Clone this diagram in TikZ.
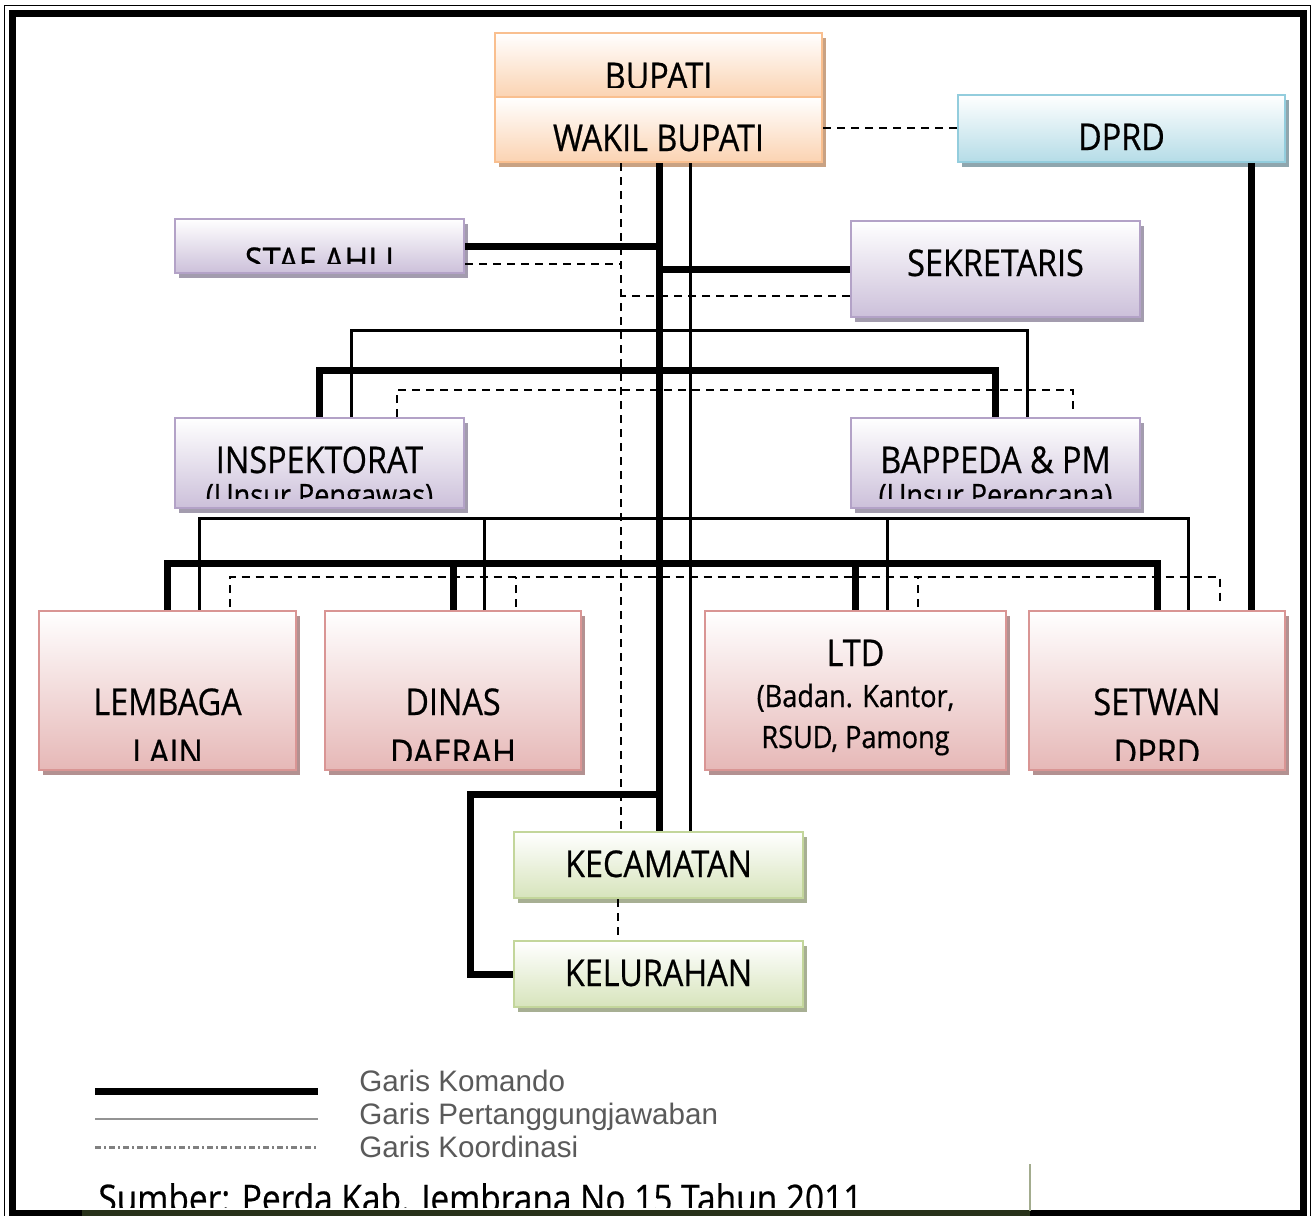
\documentclass[tikz,border=0pt]{standalone}
\usepackage{fontspec}
\setmainfont{Open Sans}[FakeStretch=0.88,BoldFont={Open Sans},BoldFeatures={FakeBold=0.6}]
\newfontfamily\legendfont{Liberation Sans}
\usetikzlibrary{shadows}

\definecolor{oranyeGaris}{HTML}{F9BF8F}
\definecolor{oranyeIsi}{HTML}{FBD3B2}
\definecolor{oranyeBayang}{HTML}{C9A283}
\definecolor{biruGaris}{HTML}{93CDDD}
\definecolor{biruIsi}{HTML}{B5DCE7}
\definecolor{biruBayang}{HTML}{8FA6AE}
\definecolor{unguGaris}{HTML}{B3A2C7}
\definecolor{unguIsi}{HTML}{CCC0DA}
\definecolor{unguBayang}{HTML}{A39CAE}
\definecolor{merahGaris}{HTML}{D99594}
\definecolor{merahIsi}{HTML}{E6B8B7}
\definecolor{merahBayang}{HTML}{B39191}
\definecolor{hijauGaris}{HTML}{C3D69B}
\definecolor{hijauIsi}{HTML}{D7E4BC}
\definecolor{hijauBayang}{HTML}{A7AF93}
\definecolor{hijauTua}{HTML}{28321A}
\definecolor{hijauAbu}{HTML}{A3AC8E}
\definecolor{abuTeks}{HTML}{5A5A5A}

\begin{document}
\begin{tikzpicture}[x=0.5pt,y=-0.5pt,
	kotak/.style n args={3}{rectangle,inner sep=0pt,line width=1pt,draw=#1,
		top color=white,bottom color=#2,
		drop shadow={shadow xshift=2pt,shadow yshift=-2.5pt,fill=#3,opacity=1}},
	ukuran/.style 2 args={minimum width=#1*0.5pt,minimum height=#2*0.5pt},
	oranye/.style={kotak={oranyeGaris}{oranyeIsi}{oranyeBayang}},
	biru/.style={kotak={biruGaris}{biruIsi}{biruBayang}},
	ungu/.style={kotak={unguGaris}{unguIsi}{unguBayang}},
	merah/.style={kotak={merahGaris}{merahIsi}{merahBayang}},
	hijau/.style={kotak={hijauGaris}{hijauIsi}{hijauBayang}},
	tulisan/.style={font=\bfseries\fontsize{18.4}{21}\selectfont,anchor=base,inner sep=0pt},
	kecil/.style={font=\bfseries\fontsize{15.4}{18}\selectfont,anchor=base,inner sep=0pt},
	legenda/.style={font=\legendfont\fontsize{14.8}{17}\selectfont,text=abuTeks,anchor=base west,inner sep=0pt},
	komando/.style={line width=3.5pt},
	tanggung/.style={line width=1.5pt},
	koordinasi/.style={line width=1pt,dash pattern=on 4pt off 3pt}]
	\useasboundingbox (0,0) rectangle (1313,1216);
	
	% Frame
	\draw[line width=0.75pt] (4.5,1230) -- (4.5,5.5) -- (1310.5,5.5) -- (1310.5,1230);
	\draw[line width=3.5pt] (12.5,1230) -- (12.5,13.5) -- (1303.5,13.5) -- (1303.5,1230);
	\draw[line width=3.5pt] (9,1213.5) -- (1307,1213.5);
	\draw[line width=3.5pt,hijauTua] (82,1213.5) -- (1030,1213.5);
	\draw[line width=1pt,hijauAbu] (1030,1164) -- (1030,1211);
	
	% Boxes
	\node[oranye,ukuran={327}{64}] (bupati) at (658.5,65) {};
	\node[oranye,ukuran={327}{65}] (wakil) at (658.5,129.5) {};
	\node[biru,ukuran={327}{67}] (dprd) at (1121.5,128.5) {};
	\node[ungu,ukuran={289}{54}] (stafahli) at (319.5,246) {};
	\node[ungu,ukuran={289}{96}] (sekretaris) at (995.5,269) {};
	\node[ungu,ukuran={289}{90}] (inspektorat) at (319.5,463) {};
	\node[ungu,ukuran={289}{90}] (bappeda) at (995.5,463) {};
	\node[merah,ukuran={257}{159}] (lembaga) at (167.5,690.5) {};
	\node[merah,ukuran={256}{159}] (dinas) at (453,690.5) {};
	\node[merah,ukuran={301}{159}] (ltd) at (855.5,690.5) {};
	\node[merah,ukuran={256}{159}] (setwan) at (1157,690.5) {};
	\node[hijau,ukuran={289}{66}] (kecamatan) at (658.5,865) {};
	\node[hijau,ukuran={289}{66}] (kelurahan) at (658.5,974) {};
	
	% Texts (clipped by the box)
	\foreach \n/\y/\t/\s in {bupati/89/BUPATI/tulisan, wakil/151/WAKIL BUPATI/tulisan,
		dprd/150/DPRD/tulisan, stafahli/274/STAF AHLI/tulisan,
		sekretaris/276/SEKRETARIS/tulisan, inspektorat/473/INSPEKTORAT/tulisan,
		inspektorat/506/(Unsur Pengawas)/kecil, bappeda/473/BAPPEDA \& PM/tulisan,
		bappeda/506/(Unsur Perencana)/kecil, lembaga/715/LEMBAGA/tulisan,
		lembaga/766/LAIN/tulisan, dinas/715/DINAS/tulisan, dinas/766/DAERAH/tulisan,
		ltd/666/LTD/tulisan, ltd/707/{(Badan. Kantor,}/kecil, ltd/748/{RSUD, Pamong}/kecil,
		setwan/715/SETWAN/tulisan, setwan/766/DPRD/tulisan,
		kecamatan/877/KECAMATAN/tulisan, kelurahan/986/KELURAHAN/tulisan}
	{
		\begin{scope}
			\clip ([yshift=5.5pt]\n.south west) rectangle (\n.north east);
			\node[\s] at (\n.center |- 0,\y) {\t};
		\end{scope}
	}
	
	% Trunk lines
	\coordinate (xK) at (659,0);
	\coordinate (xT) at (690,0);
	\coordinate (xD) at (621,0);
	\draw[komando] (xK |- wakil.south) -- (xK |- kecamatan.north);
	\draw[tanggung] (xT |- wakil.south) -- (xT |- kecamatan.north);
	\draw[koordinasi] (xD |- wakil.south) -- (xD |- kecamatan.north);
	\draw[koordinasi] ([yshift=1pt]wakil.east) -- ([yshift=1pt]wakil.east -| dprd.west);
	
	% Staf ahli and sekretaris
	\draw[komando] (stafahli.east) -- (stafahli.east -| xK);
	\draw[koordinasi] ([yshift=-9pt]stafahli.east) -- ([yshift=-9pt]stafahli.east -| xD);
	\draw[komando] (sekretaris.west) -- (sekretaris.west -| xK);
	\draw[koordinasi] ([yshift=-13.5pt]sekretaris.west) -- ([yshift=-13.5pt]sekretaris.west -| xD);
	
	% Inspektorat and bappeda
	\draw[tanggung] ([xshift=15.75pt]inspektorat.north) -- ++(0,-87) -| ([xshift=15.75pt]bappeda.north);
	\draw[komando] (inspektorat.north) -- ++(0,-47) -| (bappeda.north);
	\draw[koordinasi] ([xshift=38.75pt]inspektorat.north) -- ++(0,-27) -| ([xshift=38.75pt,yshift=3.5pt]bappeda.north);
	
	% Lower row
	\draw[tanggung] ([xshift=15.75pt]lembaga.north) -- ++(0,-92) -| ([xshift=15.75pt]setwan.north);
	\draw[komando] (lembaga.north) -- ++(0,-47) -| (setwan.north);
	\draw[koordinasi] ([xshift=31.25pt,yshift=1.5pt]lembaga.north) -- ++(0,-30.5) -| ([xshift=31.25pt,yshift=4.5pt]setwan.north);
	\foreach \b in {dinas,ltd}
	{
		\draw[tanggung] ([xshift=15.75pt]\b.north) -- ++(0,-92);
		\draw[komando] (\b.north) -- ++(0,-47);
		\draw[koordinasi] ([xshift=31.25pt,yshift=1.5pt]\b.north) -- ++(0,-30.5);
	}
	\draw[komando] ([xshift=64.75pt]dprd.south) -- ([xshift=64.75pt]dprd.south |- setwan.north);
	
	% Kecamatan and kelurahan
	\draw[komando] (kelurahan.west) -- ++(-43,0) |- ([yshift=18.5pt]xK |- kecamatan.north);
	\draw[koordinasi] ([xshift=-20.25pt]kecamatan.south) -- ([xshift=-20.25pt]kelurahan.north);
	
	% Legend
	\node[legenda] (lkomando) at (359,1091) {Garis Komando};
	\node[legenda] (ltanggung) at (359,1124) {Garis Pertanggungjawaban};
	\node[legenda] (lkoord) at (359,1157) {Garis Koordinasi};
	\draw[komando] (95,1091) -- (318,1091);
	\draw[line width=1.25pt,gray!85] (95,1119) -- (318,1119);
	\draw[line width=1.5pt,gray,dash pattern=on 3pt off 1.5pt on 1pt off 1.5pt] (95,1147) -- (318,1147);
	
	% Source
	\begin{scope}
		\clip (82,1150) rectangle (1030,1207);
		\node[tulisan,font=\bfseries\fontsize{19}{22}\selectfont,anchor=base west] (sumber) at (98,1212) {Sumber: Perda Kab. Jembrana No 15 Tahun 2011};
	\end{scope}
\end{tikzpicture}
\end{document}
